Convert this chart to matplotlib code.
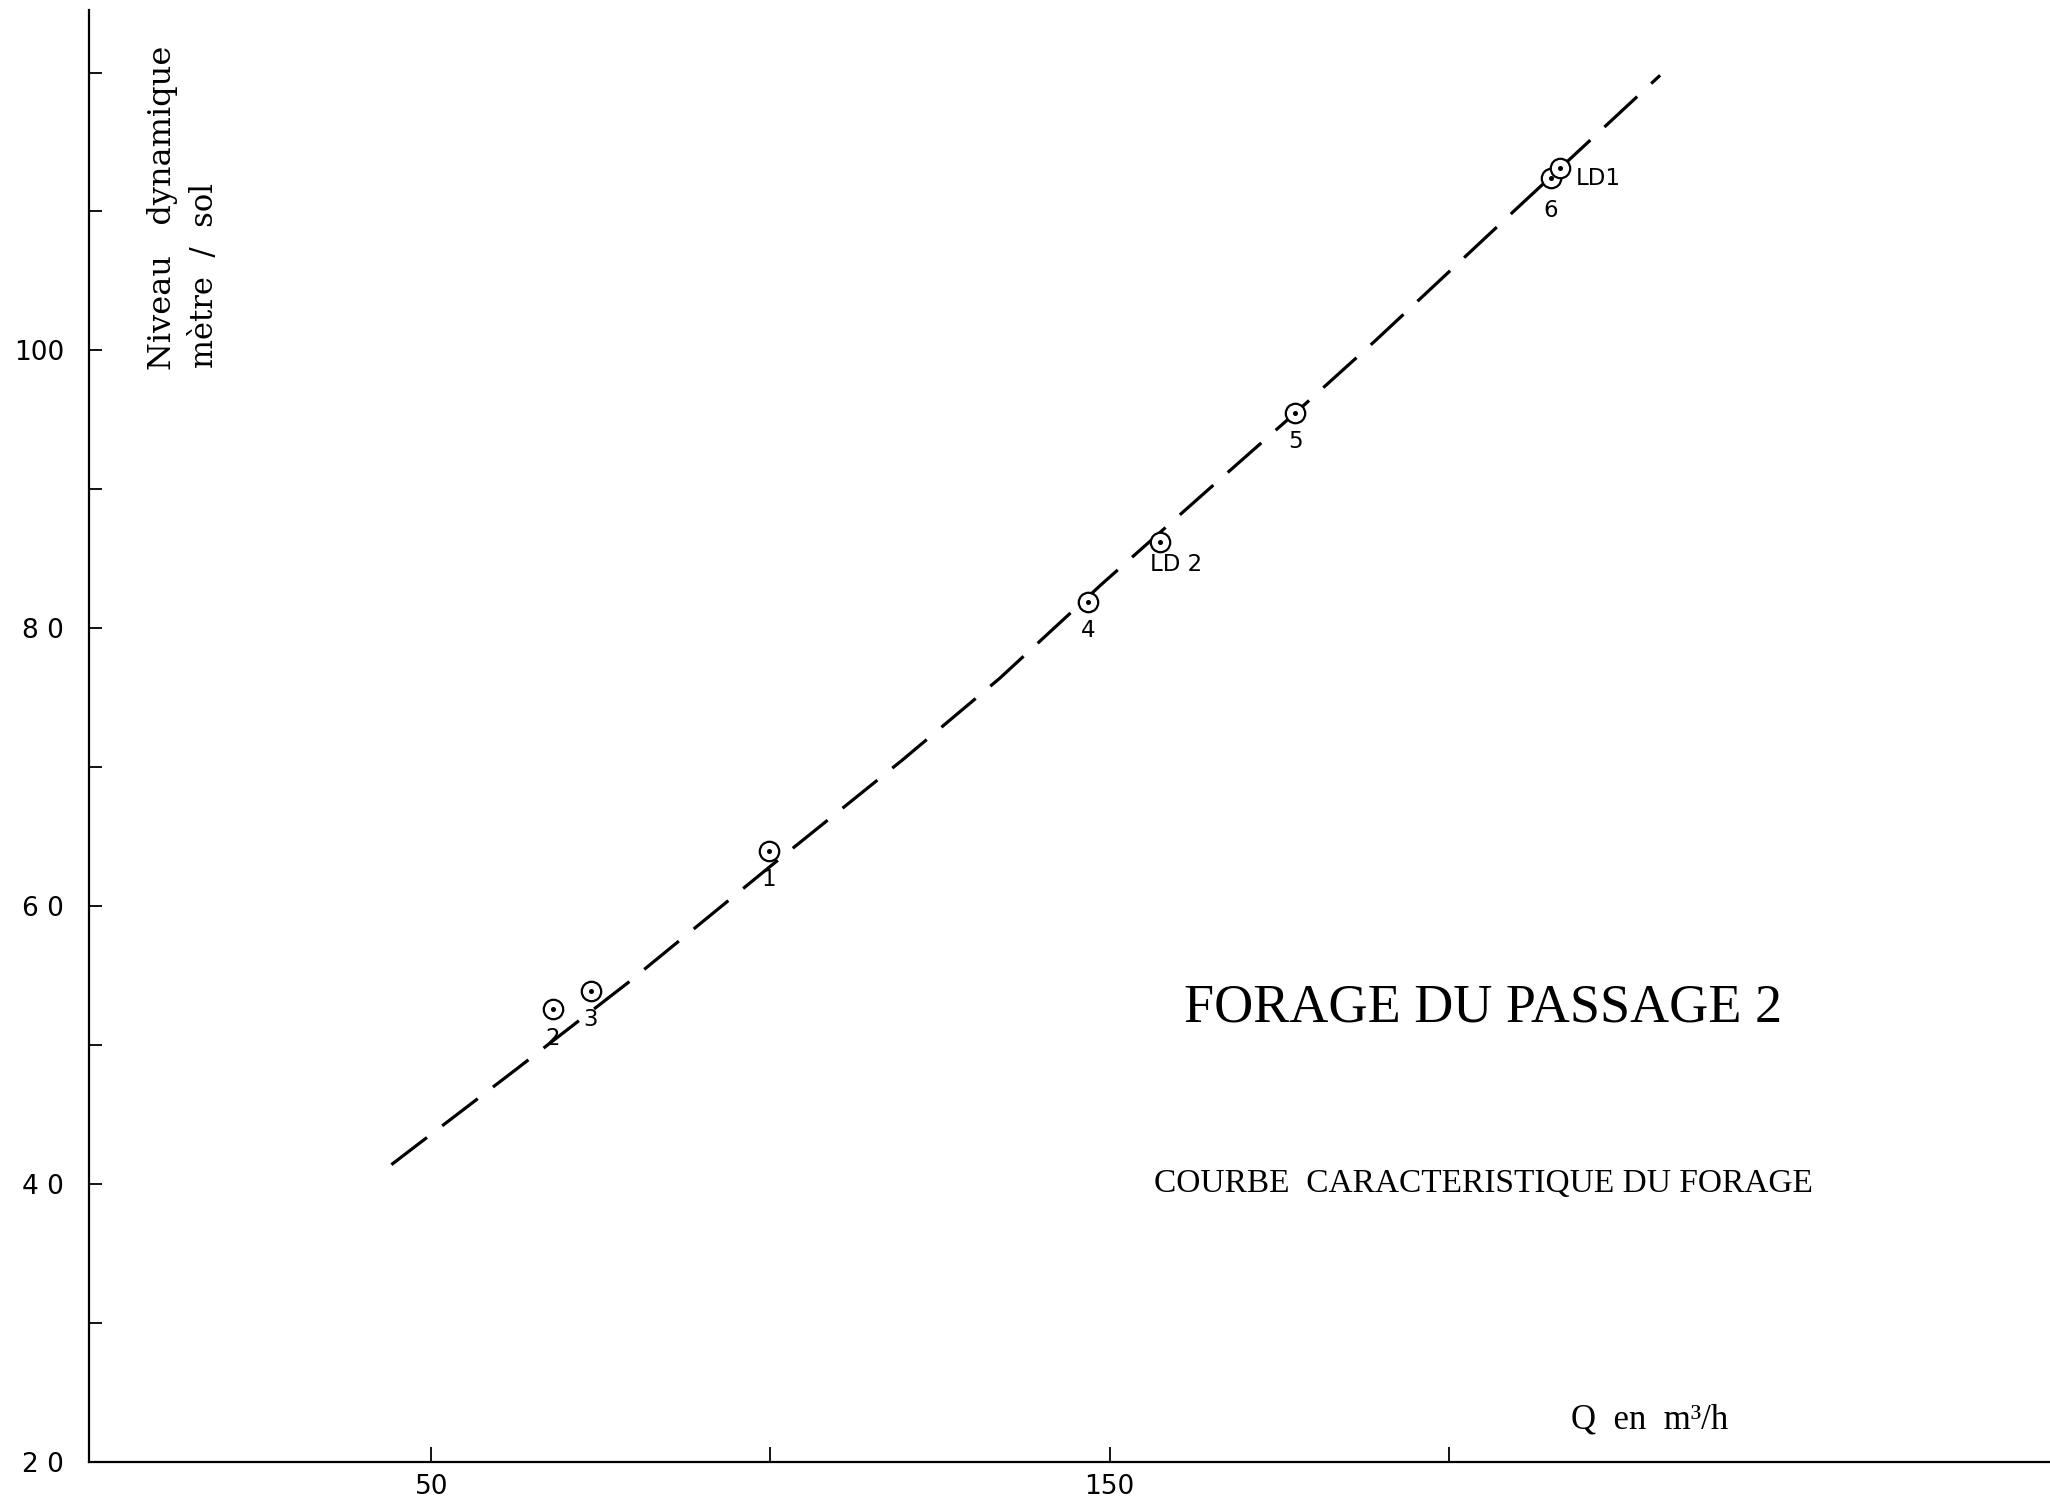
"""
    Courbe caracteristique - forage du passage 2
"""

import matplotlib.pyplot as plt

# pumping test points (Q in m3/h, dynamic level in m)
point_names = ['2', '3', '1', '4', 'LD 2', '5', '6', 'LD1']
q_points = [67.9, 73.5, 99.8, 146.9, 157.5, 177.4, 215.1, 216.5]
level_points = [52.6, 53.9, 64.0, 81.9, 86.2, 95.5, 112.4, 113.1]

# characteristic curve (dashed)
q_curve = [44.1, 62.6, 79.0, 99.8, 119.4, 133.8, 148.9, 165.3, 177.4, 189.2, 209.8, 231.2]
level_curve = [41.4, 48.3, 54.5, 62.8, 70.5, 76.4, 83.2, 90.3, 95.5, 100.7, 110.1, 119.8]

x_ticks = [50, 100, 150, 200]
x_tick_labels = ['50', '', '150', '']
y_ticks = [20, 30, 40, 50, 60, 70, 80, 90, 100, 110, 120]
y_tick_labels = ['2 0', '', '4 0', '', '6 0', '', '8 0', '', '100', '', '']

# label offsets in pixels (dx, dy, ha)
label_offsets = {
    'LD 2': (-10, -22, 'left'),
    'LD1': (15, -10, 'left'),
    '6': (0, -32, 'center'),
}


def main():
    W, H = 2050, 1498
    fig = plt.figure(figsize=(W / 100, H / 100), dpi=100)
    ax = fig.add_axes([89 / W, 36 / H, 1 - 89 / W, 1452 / H])

    ax.plot(q_curve, level_curve, color='black', lw=2.3,
            linestyle=(0, (14, 6)))
    ax.plot(q_points, level_points, linestyle='none', marker='o',
            markersize=14, markerfacecolor='white', markeredgecolor='black',
            markeredgewidth=1.6)
    ax.plot(q_points, level_points, linestyle='none', marker='o',
            markersize=2.6, color='black')

    for name, q, lev in zip(point_names, q_points, level_points):
        dx, dy, ha = label_offsets.get(name, (0, -29, 'center'))
        ax.annotate(name, (q, lev), xytext=(dx, dy), textcoords='offset pixels',
                    ha=ha, va='center', fontsize=16.5, family='DejaVu Sans')

    ax.set_xlim(-0.5, 288.7)
    ax.set_ylim(20, 124.5)
    ax.set_xticks(x_ticks)
    ax.set_xticklabels(x_tick_labels)
    ax.set_yticks(y_ticks)
    ax.set_yticklabels(y_tick_labels)
    ax.tick_params(axis='x', direction='in', length=11, width=1.3,
                   labelsize=19, pad=9)
    ax.tick_params(axis='y', direction='in', length=9.5, width=1.3,
                   labelsize=19, pad=18)

    for side in ['top', 'right']:
        ax.spines[side].set_visible(False)
    for side in ['left', 'bottom']:
        ax.spines[side].set_linewidth(1.6)

    # axis titles
    fig.text(162 / W, 1 - 370 / H, 'Niveau   dynamique', rotation=90,
             ha='center', va='bottom', fontsize=23, family='DejaVu Serif')
    fig.text(205 / W, 1 - 368 / H, 'mètre  /  sol', rotation=90,
             ha='center', va='bottom', fontsize=22, family='DejaVu Serif')
    fig.text(1650 / W, 1 - 1420 / H, 'Q  en  m³/h', ha='center', va='center',
             fontsize=25, family='Liberation Serif')

    fig.text(1483 / W, 1 - 1008 / H, 'FORAGE DU PASSAGE 2', ha='center',
             va='center', fontsize=39, family='Liberation Serif')
    fig.text(1483 / W, 1 - 1184 / H, 'COURBE  CARACTERISTIQUE DU FORAGE',
             ha='center', va='center', fontsize=24, family='Liberation Serif')

    fig.savefig('out.png', dpi=100)


if __name__ == "__main__":
    main()
